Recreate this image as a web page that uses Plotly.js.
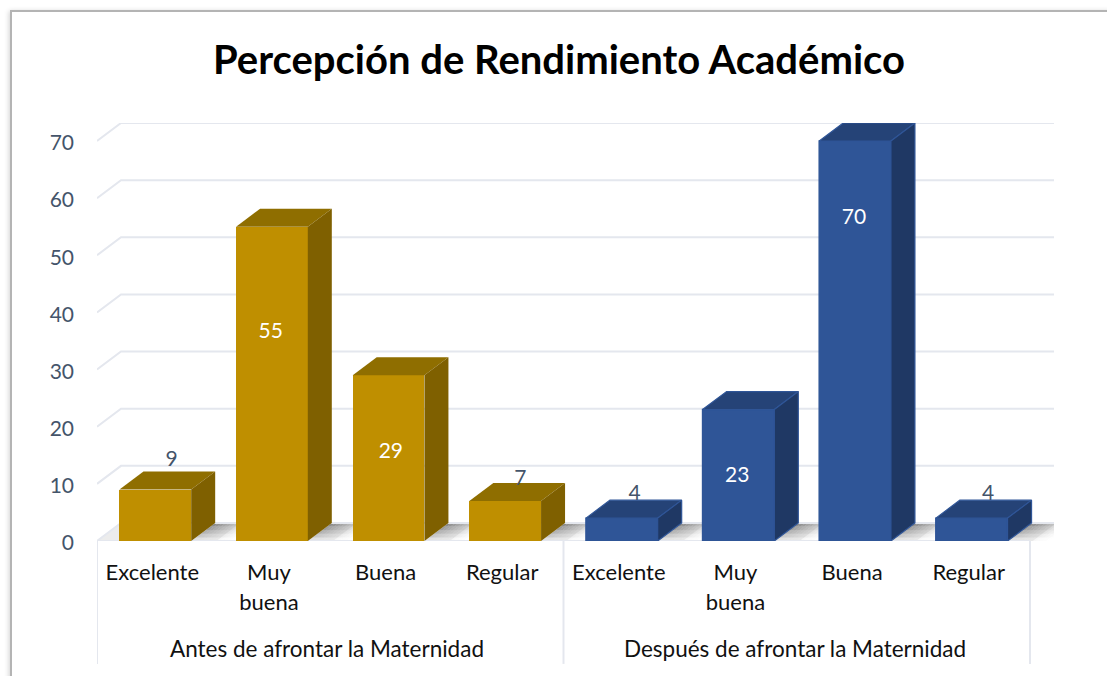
<!DOCTYPE html>
<html>
<head>
<meta charset="utf-8">
<script src="https://cdn.plot.ly/plotly-3.0.1.min.js"></script>
<style>
html,body{margin:0;padding:0;background:#fff;overflow:hidden;width:1107px;height:676px}
#frame{position:absolute;left:10px;top:10px;width:1200px;height:800px;border:2px solid #b4b4b4;box-shadow:-1px 1px 5px rgba(0,0,0,.18);background:#fff}
#chart{position:absolute;left:0;top:0;width:1107px;height:676px}
</style>
</head>
<body>
<div id="frame"></div>
<div id="chart"></div>
<script>
// Data
const titleText = "Percepción de Rendimiento Académico";
const lineOne = ["Excelente","Muy","Buena","Regular","Excelente","Muy","Buena","Regular"];
const lineTwo = ["","buena","","","","buena","",""];
const groupNames = ["Antes de afrontar la Maternidad","Después de afrontar la Maternidad"];
const antes = [9,55,29,7];
const despues = [4,23,70,4];
const yTicks = [0,10,20,30,40,50,60,70];
// Where each data label sits
const labelYAntes = [14.0,36.4,15.5,10.8];
const labelYDespues = [8.1,11.2,56.4,8.1];
const labelShiftAntes = [0.14,-0.01,0.02,0.13];
const labelShiftDespues = [0.11,-0.01,-0.01,0.14];

// Style constants
const barW = 0.615, depthX = 0.2058, depthY = 3.15, yMax = 70 + depthY;
const gold = {front:"#bf8f00", top:"#8f6e00", side:"#7f6000", edge:"#bf8f00"};
const blue = {front:"#2f5597", top:"#254377", side:"#1f3864", edge:"#2f5597"};
const gridCol = "#e4e7ee", tickCol = "#44546a", textCol = "#111111";
const fontFam = "Lato, Carlito, sans-serif";

const xA = antes.map((_,i)=>i), xD = despues.map((_,i)=>i+antes.length);
const traces = [];

function polyPath(pts){ return "M"+pts.map(p=>p[0]+","+p[1]).join("L")+"Z"; }

// Front faces
traces.push({type:"bar",x:xA,y:antes,width:barW,marker:{color:gold.front,line:{width:0}},showlegend:false,hoverinfo:"skip"});
traces.push({type:"bar",x:xD,y:despues,width:barW,marker:{color:blue.front,line:{color:blue.edge,width:1.5}},showlegend:false,hoverinfo:"skip"});

// Top and side faces follow the same values on the same axes
function addFaces(xs,vals,c){
  xs.forEach((x,i)=>{
    const v = vals[i], l = x-barW/2, r = x+barW/2;
    const line = c===blue ? {color:c.edge,width:1.2} : {width:0};
    traces.push({type:"scatter",mode:"lines",fill:"toself",fillcolor:c.top,line:line,
      x:[l,r,r+depthX,l+depthX,l],y:[v,v,v+depthY,v+depthY,v],showlegend:false,hoverinfo:"skip"});
    traces.push({type:"scatter",mode:"lines",fill:"toself",fillcolor:c.side,line:line,
      x:[r,r+depthX,r+depthX,r,r],y:[0,depthY,v+depthY,v,0],showlegend:false,hoverinfo:"skip"});
  });
}
addFaces(xA,antes,gold);
addFaces(xD,despues,blue);

// Data labels
const allX = xA.concat(xD);
const allVals = antes.concat(despues);
const allLabelY = labelYAntes.concat(labelYDespues);
const allShift = labelShiftAntes.concat(labelShiftDespues);
const inside = allVals.map(v=>v>=20);
traces.push({type:"scatter",mode:"text",
  x:allX.map((x,i)=>x+allShift[i]),y:allLabelY,text:allVals.map(String),textposition:"middle center",
  textfont:{family:fontFam,size:21,color:inside.map(b=>b?"#ffffff":tickCol)},
  showlegend:false,hoverinfo:"skip",cliponaxis:false});

// Shapes: gridlines, floor, floor shadow, separators
const shapes = [];
const xMin = -0.5, xMaxFront = allX.length-0.5, xMaxBack = xMaxFront+depthX;

// light floor to the left of the first bar
shapes.push({type:"path",layer:"below",xref:"x",yref:"y",
  path:polyPath([[xMin,0],[xMin+depthX,depthY],[0,depthY],[0-barW/2,0]]),
  fillcolor:"#ececec",line:{width:0}});

// shadow each bar throws on the floor, to its right
const nStrips = 12, nRows = 5, reach = 0.36;
allX.forEach(x=>{
  const r = x+barW/2;
  // faint base between the bars
  shapes.push({type:"path",layer:"below",xref:"x",yref:"y",
    path:polyPath([[r,0],[r+reach*0.6,0],[r+reach*0.6+depthX,depthY],[r+depthX,depthY]]),
    fillcolor:"rgba(210,210,210,0.3)",line:{width:0}});
  for(let s=0;s<nStrips;s++){
    for(let d=0;d<nRows;d++){
      const o0=reach*s/nStrips,o1=reach*(s+1)/nStrips;
      const f0=d/nRows,f1=(d+1)/nRows;
      const a=0.72*Math.pow(1-(s+.5)/nStrips,1.0)*Math.pow((d+.5)/nRows,0.8);
      shapes.push({type:"path",layer:"below",xref:"x",yref:"y",
        path:polyPath([
          [r+o0+depthX*f0,depthY*f0],[r+o1+depthX*f0,depthY*f0],
          [r+o1+depthX*f1,depthY*f1],[r+o0+depthX*f1,depthY*f1]]),
        fillcolor:"rgba(80,80,80,"+a.toFixed(3)+")",line:{width:0}});
    }
  }
});

yTicks.forEach(v=>{
  shapes.push({type:"path",layer:"below",xref:"x",yref:"y",
    path:"M"+xMin+","+v+"L"+(xMin+depthX)+","+(v+depthY)+"L"+xMaxBack+","+(v+depthY),
    line:{color:gridCol,width:2}});
});
// front floor edge
shapes.push({type:"line",layer:"below",xref:"x",yref:"y",x0:xMin,x1:xMaxFront,y0:0,y1:0,line:{color:gridCol,width:2}});
// category-group separators below the axis
[xMin,antes.length-0.5,xMaxFront].forEach(x=>{
  shapes.push({type:"line",layer:"below",xref:"x",yref:"paper",x0:x,x1:x,y0:0,y1:-0.294,line:{color:gridCol,width:2}});
});

const annotations = [
  {text:groupNames[0],xref:"x",yref:"paper",x:(xA[0]+xA[xA.length-1])/2,xshift:-3,y:-0.2565,xanchor:"center",yanchor:"middle",showarrow:false,
   font:{family:fontFam,size:22.5,color:textCol}},
  {text:groupNames[1],xref:"x",yref:"paper",x:(xD[0]+xD[xD.length-1])/2,xshift:-2,y:-0.2565,xanchor:"center",yanchor:"middle",showarrow:false,
   font:{family:fontFam,size:22.5,color:textCol}}
];

const tickText = lineOne.map((t,i)=>{
  const w = "<span style=\"font-size:22px\">";
  return lineTwo[i] ? w+t+"</span><br>"+w+lineTwo[i]+"</span>" : w+t+"</span>";
});

const layout = {
  width:1107,height:676,
  margin:{l:97,r:53,t:123,b:135,pad:0},
  paper_bgcolor:"rgba(0,0,0,0)",plot_bgcolor:"rgba(0,0,0,0)",
  hovermode:false,showlegend:false,
  title:{text:"<b>"+titleText+"</b>",x:559/1107,xref:"container",xanchor:"center",y:1-60/676,yref:"container",yanchor:"middle",
    font:{family:fontFam,size:40,color:"#000000"}},
  xaxis:{range:[xMin,xMaxBack],tickmode:"array",tickvals:allX,ticktext:tickText,tickangle:0,
    showgrid:false,zeroline:false,showline:false,ticks:"",ticklabelstandoff:15,ticklabelshift:-3,
    tickfont:{family:fontFam,size:23,color:textCol}},
  yaxis:{range:[0,yMax],tickmode:"array",tickvals:yTicks,showgrid:false,zeroline:false,showline:false,ticks:"",
    ticklabelstandoff:22,ticklabelshift:2,tickfont:{family:fontFam,size:21,color:tickCol}},
  bargap:0,barmode:"overlay",
  shapes:shapes,annotations:annotations
};
Plotly.newPlot("chart",traces,layout,{staticPlot:true,displayModeBar:false});
</script>
</body>
</html>
